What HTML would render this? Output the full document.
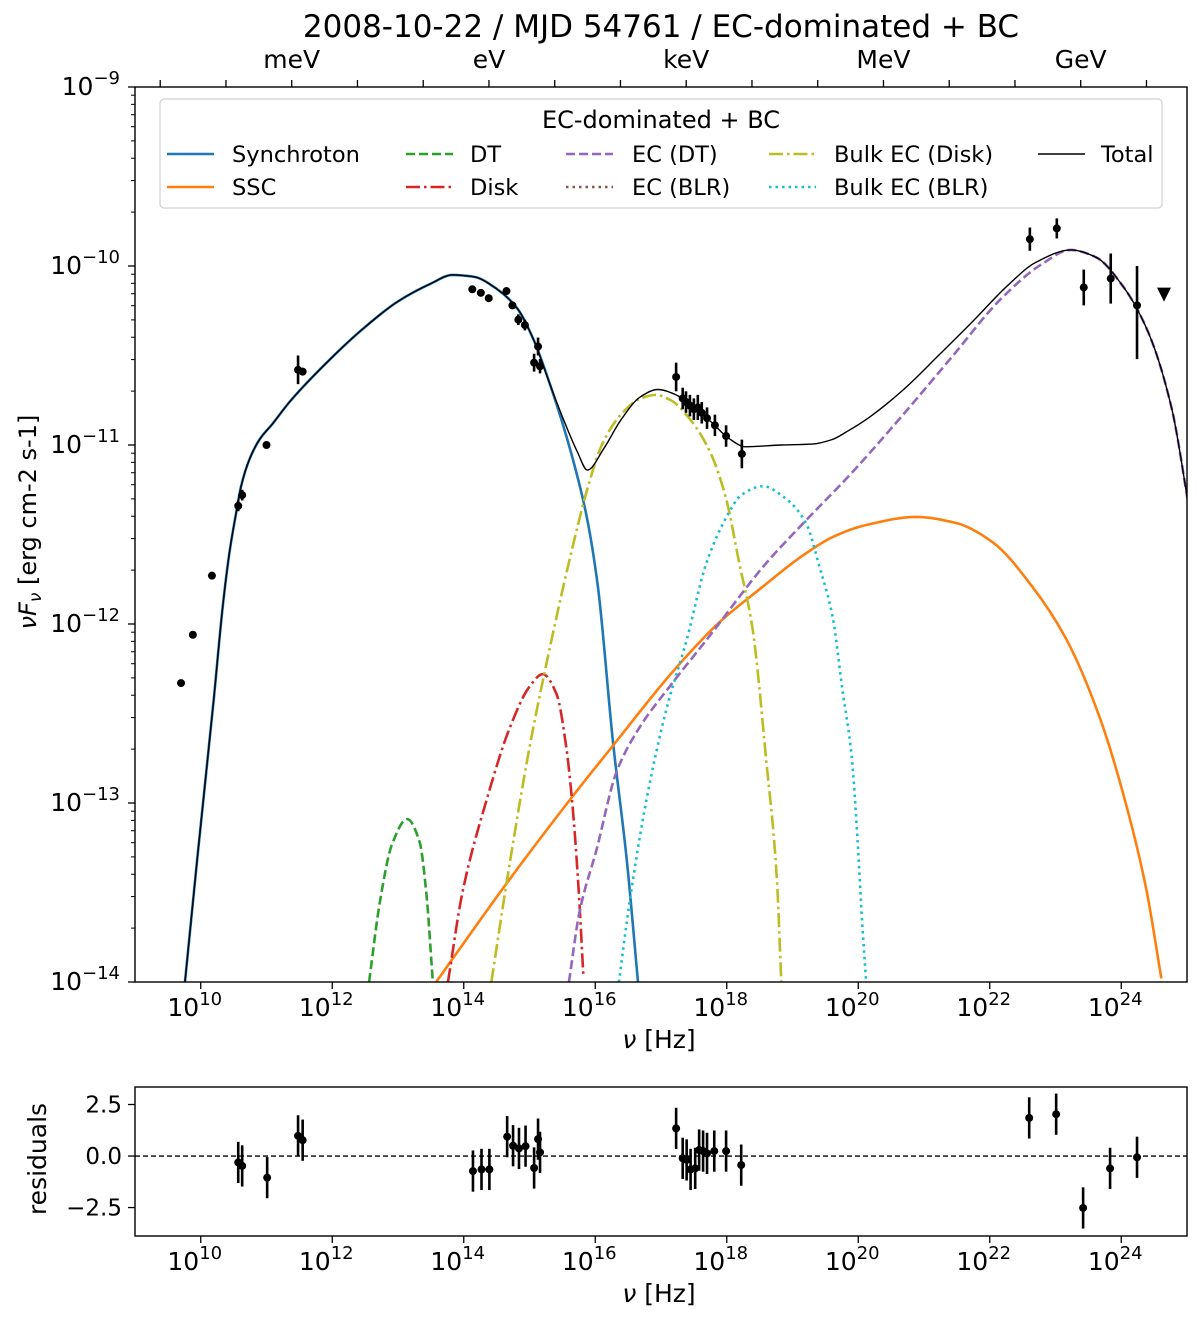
<!DOCTYPE html>
<html><head><meta charset="utf-8"><title>SED 2008-10-22</title>
<style>
html,body{margin:0;padding:0;background:#fff;}
svg{display:block;font-family:"DejaVu Sans","Liberation Sans",sans-serif;}
</style></head>
<body>
<svg id="fig" width="1200" height="1322" viewBox="0 0 1200 1322" xmlns="http://www.w3.org/2000/svg">
<defs>
<clipPath id="clipMain"><rect x="135" y="87" width="1052" height="895"/></clipPath>
<clipPath id="clipRes"><rect x="135" y="1087" width="1052" height="149"/></clipPath>
</defs>
<text x="661" y="37" font-size="31" text-anchor="middle">2008-10-22 / MJD 54761 / EC-dominated +  BC</text>
<g id="main"></g>
<g id="res"></g>
</svg>
<script>
// ---------- data (log10 nu [Hz], log10 nuFnu) ----------
const dataNu = [9.70,9.88,10.17,10.57,10.63,11.00,11.48,11.55,14.13,14.26,14.38,14.65,14.74,14.83,14.93,15.07,15.13,15.16,17.23,17.33,17.38,17.44,17.50,17.56,17.62,17.70,17.82,17.99,18.23,22.61,23.02,23.43,23.84,24.24];
const dataF  = [-12.33,-12.06,-11.73,-11.34,-11.28,-11.00,-10.58,-10.59,-10.13,-10.15,-10.18,-10.14,-10.22,-10.30,-10.33,-10.54,-10.45,-10.56,-10.62,-10.74,-10.76,-10.78,-10.80,-10.79,-10.82,-10.85,-10.89,-10.95,-11.05,-9.85,-9.79,-10.12,-10.07,-10.22];
const dataErrUp = [0,0,0,0.03,0.03,0,0.08,0.02,0.01,0.01,0.01,0.02,0.02,0.03,0.03,0.05,0.05,0.04,0.08,0.06,0.06,0.06,0.06,0.07,0.06,0.06,0.06,0.06,0.08,0.065,0.056,0.10,0.14,0.22];
const dataErrDn = [0,0,0,0.03,0.03,0,0.08,0.02,0.01,0.01,0.01,0.02,0.02,0.03,0.03,0.05,0.05,0.04,0.08,0.06,0.06,0.06,0.06,0.07,0.06,0.06,0.06,0.06,0.08,0.065,0.056,0.10,0.14,0.30];
const ulNu = [24.65];
const ulF = [-10.16];

const resNu = [10.57,10.63,11.01,11.48,11.55,14.14,14.27,14.39,14.66,14.75,14.84,14.94,15.07,15.13,15.16,17.23,17.33,17.39,17.45,17.52,17.58,17.64,17.70,17.81,17.99,18.22,22.60,23.01,23.42,23.83,24.24];
const resVal = [-0.31,-0.48,-1.05,0.98,0.77,-0.73,-0.65,-0.65,0.94,0.50,0.37,0.48,-0.58,0.82,0.18,1.34,-0.11,-0.19,-0.65,-0.60,0.29,0.24,0.13,0.24,0.24,-0.44,1.85,2.03,-2.52,-0.60,-0.06];
const resErr = [1,1,1,1,1,1,1,1,1,1,1,1,1,1,1,1,1,1,1,1,1,1,1,1,1,1,1,1,1,1,1];

// model components
const synNu = [9.76,9.95,10.198,10.335,10.437,10.538,10.614,10.741,10.893,11.095,11.349,11.97,12.47,12.99,13.49,13.83,14.15,14.51,14.82,15.06,15.32,15.63,15.87,16.04,16.27,16.48,16.65];
const synF  = [-14.00,-13.30,-12.42,-11.90,-11.60,-11.38,-11.23,-11.08,-10.97,-10.88,-10.76,-10.52,-10.35,-10.20,-10.10,-10.05,-10.06,-10.13,-10.24,-10.41,-10.67,-11.04,-11.40,-11.79,-12.66,-13.32,-14.00];
const sscNu = [13.58,14.65,15.64,16.29,17.17,17.89,18.52,19.105,19.61,20.12,20.88,21.49,22.04,22.65,23.17,23.67,24.08,24.38,24.61];
const sscF  = [-14.00,-13.45,-12.97,-12.67,-12.27,-11.99,-11.80,-11.631,-11.514,-11.447,-11.402,-11.436,-11.542,-11.793,-12.089,-12.52,-13.017,-13.48,-13.98];
const dtNu = [12.56,12.73,12.91,13.14,13.33,13.43,13.53];
const dtF  = [-14.00,-13.54,-13.23,-13.09,-13.22,-13.50,-14.00];
const diskNu = [13.76,13.98,14.35,14.70,15.00,15.20,15.41,15.56,15.66,15.75,15.82];
const diskF  = [-14.00,-13.50,-12.98,-12.58,-12.35,-12.28,-12.39,-12.69,-13.04,-13.50,-13.97];
const ecdtNu = [15.60,15.76,16.02,16.32,16.67,17.13,17.69,18.60,19.13,19.89,20.66,21.42,22.18,22.79,23.23,23.61,24.02,24.41,24.77,25.03];
const ecdtF  = [-14.00,-13.61,-13.26,-12.83,-12.58,-12.35,-12.09,-11.66,-11.45,-11.16,-10.84,-10.51,-10.18,-9.99,-9.91,-9.95,-10.11,-10.37,-10.80,-11.35];
const bdNu = [14.42,14.65,15.00,15.23,15.61,15.90,16.10,16.39,16.69,16.92,17.15,17.45,17.76,17.99,18.19,18.39,18.60,18.76,18.83];
const bdF  = [-14.00,-13.45,-12.69,-12.27,-11.64,-11.22,-11.00,-10.83,-10.74,-10.72,-10.75,-10.86,-11.05,-11.30,-11.66,-12.02,-12.76,-13.41,-14.00];
const bbNu = [16.36,16.52,16.78,17.08,17.39,17.69,18.00,18.22,18.55,18.90,19.21,19.41,19.61,19.76,19.90,19.99,20.06,20.12];
const bbF  = [-14.00,-13.56,-12.98,-12.48,-12.09,-11.66,-11.40,-11.28,-11.23,-11.30,-11.44,-11.68,-11.96,-12.37,-12.74,-13.21,-13.67,-14.00];
const totNu = [9.76,9.95,10.198,10.335,10.437,10.538,10.614,10.741,10.893,11.095,11.349,11.97,12.47,12.99,13.49,13.83,14.15,14.51,14.82,15.06,15.32,15.52,15.73,15.88,16.13,16.39,16.69,16.95,17.23,17.48,17.76,18.02,18.29,18.83,19.30,19.60,19.85,20.15,20.69,21.22,21.74,22.27,22.70,23.23,23.61,24.02,24.41,24.77,25.03];
const totF  = [-14.00,-13.30,-12.42,-11.90,-11.60,-11.38,-11.23,-11.08,-10.97,-10.88,-10.76,-10.52,-10.35,-10.20,-10.10,-10.05,-10.06,-10.13,-10.24,-10.41,-10.67,-10.86,-11.04,-11.14,-11.02,-10.86,-10.73,-10.69,-10.72,-10.79,-10.87,-10.96,-11.01,-11.00,-10.995,-10.97,-10.92,-10.85,-10.69,-10.50,-10.31,-10.11,-9.98,-9.91,-9.95,-10.11,-10.37,-10.80,-11.35];

const xTickDecades = [10,12,14,16,18,20,22,24];
const yTickDecades = [-9,-10,-11,-12,-13,-14];
const resTicks = [2.5,0.0,-2.5];
const resTickLabels = ["2.5","0.0","\u22122.5"];
const energyNames = ["meV","eV","keV","MeV","GeV"];
const energyLogEv = [-3,0,3,6,9];
const legendNames = ["Synchroton","SSC","DT","Disk","EC (DT)","EC (BLR)","Bulk EC (Disk)","Bulk EC (BLR)","Total"];

// ---------- axes ----------
const X0=135, X1=1187, LX0=9, LX1=25;
const Y0=87, Y1=982, LY0=-9, LY1=-14;
const RY0=1087, RY1=1236, RV0=3.35, RV1=-3.88;
const xs = l => X0 + (l-LX0)/(LX1-LX0)*(X1-X0);
const ys = l => Y0 + (l-LY0)/(LY1-LY0)*(Y1-Y0);
const rys = v => RY0 + (v-RV0)/(RV1-RV0)*(RY1-RY0);
const NS="http://www.w3.org/2000/svg";
function mk(tag, attrs, parent){const e=document.createElementNS(NS,tag);for(const k in attrs)e.setAttribute(k,attrs[k]);parent.appendChild(e);return e;}
const main=document.getElementById('main'), res=document.getElementById('res');

// monotone cubic (Fritsch-Carlson) path through points, in pixel space
function smoothPath(xa, ya){
  const X = xa.map(xs), Y = ya.map(ys), n = X.length;
  const d = [], m = new Array(n);
  for(let i=0;i<n-1;i++) d.push((Y[i+1]-Y[i])/(X[i+1]-X[i]));
  m[0]=d[0]; m[n-1]=d[n-2];
  for(let i=1;i<n-1;i++){
    if(d[i-1]*d[i]<=0) m[i]=0;
    else { const h0=X[i]-X[i-1], h1=X[i+1]-X[i]; const w1=2*h1+h0, w2=h1+2*h0; m[i]=(w1+w2)/(w1/d[i-1]+w2/d[i]); }
  }
  let p = `M${X[0].toFixed(2)},${Y[0].toFixed(2)}`;
  for(let i=0;i<n-1;i++){
    const h=X[i+1]-X[i];
    p += ` C${(X[i]+h/3).toFixed(2)},${(Y[i]+m[i]*h/3).toFixed(2)} ${(X[i+1]-h/3).toFixed(2)},${(Y[i+1]-m[i+1]*h/3).toFixed(2)} ${X[i+1].toFixed(2)},${Y[i+1].toFixed(2)}`;
  }
  return p;
}

// curves
const curvesG = mk('g',{'clip-path':'url(#clipMain)'},main);
const styles = [
 {n:'synchrotron-curve', x:synNu, y:synF, c:'#1f77b4', w:2.6, da:''},
 {n:'ssc-curve', x:sscNu, y:sscF, c:'#ff7f0e', w:2.6, da:''},
 {n:'dt-curve', x:dtNu, y:dtF, c:'#2ca02c', w:2.6, da:'9,4'},
 {n:'disk-curve', x:diskNu, y:diskF, c:'#d62728', w:2.6, da:'14,4,2.5,4'},
 {n:'ec-dt-curve', x:ecdtNu, y:ecdtF, c:'#9467bd', w:2.6, da:'9,4'},
 {n:'bulk-ec-disk-curve', x:bdNu, y:bdF, c:'#bcbd22', w:2.6, da:'14,4,2.5,4'},
 {n:'bulk-ec-blr-curve', x:bbNu, y:bbF, c:'#17becf', w:2.6, da:'2.5,4'},
 {n:'total-curve', x:totNu, y:totF, c:'#000', w:1.4, da:''}
];
styles.forEach(s=>{
  const el=mk('path',{d:smoothPath(s.x,s.y),fill:'none',stroke:s.c,'stroke-width':s.w,'stroke-dasharray':s.da},curvesG);
  
  
});

// data points
const ptsG = mk('g',{},main);
dataNu.forEach((l,i)=>{
  const cx=xs(l), cy=ys(dataF[i]);
  if(dataErrUp[i]>0||dataErrDn[i]>0){
    const eb=mk('line',{x1:cx,x2:cx,y1:ys(dataF[i]+dataErrUp[i]),y2:ys(dataF[i]-dataErrDn[i]),stroke:'#000','stroke-width':2.6},ptsG);
    
    
  }
  const c=mk('circle',{cx:cx,cy:cy,r:4,fill:'#000'},ptsG);
  
  
});
ulNu.forEach((l,i)=>{
  const cx=xs(l), cy=ys(ulF[i]);
  const t=mk('path',{d:`M${cx-7},${cy-7} L${cx+7},${cy-7} L${cx},${cy+7} Z`,fill:'#000'},ptsG);
  
  
});

// main frame
const fr=mk('rect',{x:X0,y:Y0,width:X1-X0,height:Y1-Y0,fill:'none',stroke:'#000','stroke-width':1.4},main);



// x ticks
xTickDecades.forEach(d=>{
  const x=xs(d);
  mk('line',{x1:x,x2:x,y1:Y1,y2:Y1+7,stroke:'#000','stroke-width':1.3},main);
  const t=mk('text',{x:x-6,y:1016,'font-size':25,'text-anchor':'middle'},main);
  
  
  t.innerHTML=`10<tspan font-size="18" dy="-11">${d}</tspan>`;
});
// y ticks
yTickDecades.forEach(d=>{
  const y=ys(d);
  mk('line',{x1:X0-7,x2:X0,y1:y,y2:y,stroke:'#000','stroke-width':1.3},main);
  const t=mk('text',{x:120,y:y+8,'font-size':25,'text-anchor':'end'},main);
  
  
  t.innerHTML=`10<tspan font-size="18" dy="-11">\u2212${-d}</tspan>`;
  if(d>LY1){
    for(let m=2;m<10;m++){
      const ym=ys(d-1+Math.log10(m));
      mk('line',{x1:X0-4,x2:X0,y1:ym,y2:ym,stroke:'#000','stroke-width':1},main);
    }
  }
});
// top energy axis
const hzPerEv = Math.log10(2.417989e14);
for(let e=-5;e<=10;e++){
  const x=xs(e+hzPerEv);
  if(x<X0||x>X1) continue;
  mk('line',{x1:x,x2:x,y1:Y0-7,y2:Y0,stroke:'#000','stroke-width':1.3},main);
}
energyNames.forEach((n,i)=>{
  const t=mk('text',{x:xs(energyLogEv[i]+hzPerEv),y:68,'font-size':25,'text-anchor':'middle'},main);
  
  
  t.textContent=n;
});
const xl=mk('text',{x:659,y:1048,'font-size':25,'text-anchor':'middle'},main);


xl.innerHTML='<tspan font-style="italic">ν</tspan> [Hz]';
const yl=mk('text',{x:0,y:0,'font-size':24,'text-anchor':'middle',transform:'translate(36,522) rotate(-90)'},main);


yl.innerHTML='<tspan font-style="italic">νF</tspan><tspan font-style="italic" font-size="17" dy="5">ν</tspan><tspan dy="-5">  [erg cm-2 s-1]</tspan>';

// legend
const lg=mk('g',{},main);


mk('rect',{x:160,y:99,width:1002,height:109,rx:4,fill:'#fff','fill-opacity':0.85,stroke:'#d0d0d0','stroke-width':1.2},lg);
const lt=mk('text',{x:661,y:128,'font-size':24,'text-anchor':'middle'},lg);


lt.textContent='EC-dominated + BC';
const legItems=[
 {c:'#1f77b4',da:'',w:2.6,col:0,row:0},{c:'#ff7f0e',da:'',w:2.6,col:0,row:1},
 {c:'#2ca02c',da:'9,4',w:2.6,col:1,row:0},{c:'#d62728',da:'14,4,2.5,4',w:2.6,col:1,row:1},
 {c:'#9467bd',da:'9,4',w:2.6,col:2,row:0},{c:'#8c564b',da:'2.5,4',w:2.6,col:2,row:1},
 {c:'#bcbd22',da:'14,4,2.5,4',w:2.6,col:3,row:0},{c:'#17becf',da:'2.5,4',w:2.6,col:3,row:1},
 {c:'#000',da:'',w:1.4,col:4,row:0}
];
const colLine=[167,406,566,769,1038], colText=[232,470,632,834,1101];
legItems.forEach((it,i)=>{
  const y=154+it.row*33;
  const g=mk('g',{},lg);
  
  
  mk('line',{x1:colLine[it.col],x2:colLine[it.col]+47,y1:y,y2:y,stroke:it.c,'stroke-width':it.w,'stroke-dasharray':it.da},g);
  const t=mk('text',{x:colText[it.col],y:y+8,'font-size':22.5},g);
  t.textContent=legendNames[i];
});

// ---------- residuals ----------
mk('line',{x1:X0,x2:X1,y1:rys(0),y2:rys(0),stroke:'#000','stroke-width':1.4,'stroke-dasharray':'5,3'},res);
const rg=mk('g',{'clip-path':'url(#clipRes)'},res);
resNu.forEach((l,i)=>{
  const cx=xs(l), cy=rys(resVal[i]);
  const eb=mk('line',{x1:cx,x2:cx,y1:rys(resVal[i]+resErr[i]),y2:rys(resVal[i]-resErr[i]),stroke:'#000','stroke-width':2.6},rg);
  
  
  const c=mk('circle',{cx:cx,cy:cy,r:4,fill:'#000'},rg);
  
  
});
const rf=mk('rect',{x:X0,y:RY0,width:X1-X0,height:RY1-RY0,fill:'none',stroke:'#000','stroke-width':1.4},res);


xTickDecades.forEach(d=>{
  const x=xs(d);
  mk('line',{x1:x,x2:x,y1:RY1,y2:RY1+7,stroke:'#000','stroke-width':1.3},res);
  const t=mk('text',{x:x-6,y:1270,'font-size':25,'text-anchor':'middle'},res);
  
  
  t.innerHTML=`10<tspan font-size="18" dy="-11">${d}</tspan>`;
});
resTicks.forEach((v,i)=>{
  const y=rys(v);
  mk('line',{x1:X0-7,x2:X0,y1:y,y2:y,stroke:'#000','stroke-width':1.3},res);
  const t=mk('text',{x:122,y:y+8,'font-size':23,'text-anchor':'end'},res);
  
  
  t.textContent=resTickLabels[i];
});
const rxl=mk('text',{x:659,y:1302,'font-size':25,'text-anchor':'middle'},res);


rxl.innerHTML='<tspan font-style="italic">ν</tspan> [Hz]';
const ryl=mk('text',{x:0,y:0,'font-size':25,'text-anchor':'middle',transform:'translate(46,1159) rotate(-90)'},res);


ryl.textContent='residuals';
</script>
</body></html>
